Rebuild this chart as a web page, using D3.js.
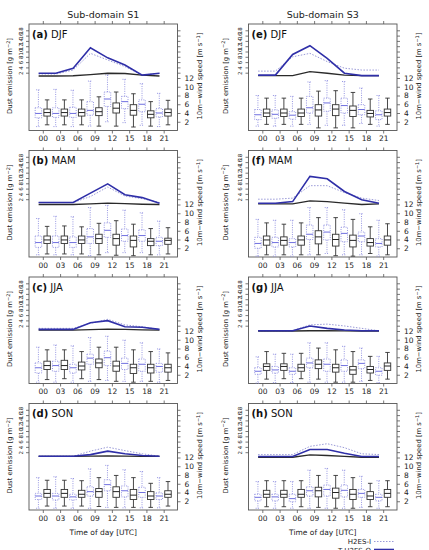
<!DOCTYPE html>
<html><head><meta charset="utf-8">
<script src="https://cdn.jsdelivr.net/npm/d3@7"></script>
<style>body{margin:0;background:#fff}svg text{font-family:"DejaVu Sans",sans-serif}</style>
</head><body><svg id="c" width="429" height="550"></svg>
<script>
const hours = ["00","03","06","09","12","15","18","21"];
const dustTicks = [2,4,6,8,10,12,14,16,18];
const windTicks = [2,4,6,8,10,12];
const panelIds = ["a","b","c","d","e","f","g","h"];
const seasons = ["DJF","MAM","JJA","SON","DJF","MAM","JJA","SON"];
const colTitles = ["Sub-domain S1","Sub-domain S3"];
const legendNames = ["H2ES-I","T-H2ES-O"];

// dust emission [g m-2]: T-H2ES-O (solid blue), H2ES-I (dotted), reference (black)
const dustT_a = [1.8,1.8,3.7,11.4,7.6,4.9,1.1,1.8];
const dustH_a = [1.5,1.5,3.0,9.3,6.8,4.3,1.1,1.8];
const dustB_a = [0.75,0.75,0.85,1.3,1.8,1.7,1.1,0.75];
const dustT_b = [0.75,0.75,0.75,4.3,7.8,3.7,2.6,0.5];
const dustH_b = [0.75,0.75,0.75,3.0,6.6,3.2,2.2,0.75];
const dustB_b = [0,0,0,0.2,0.5,0.3,0.1,0];
const dustT_c = [0.6,0.6,0.6,3.1,3.9,1.6,1.4,0.6];
const dustH_c = [1.0,1.0,1.0,2.9,4.4,2.3,1.6,0.6];
const dustB_c = [0.3,0.3,0.3,0.5,0.7,0.6,0.4,0.3];
const dustT_d = [0.5,0.5,0.5,1.1,2.4,1.4,0.75,0.5];
const dustH_d = [0.5,0.5,0.5,2.4,3.9,2.6,1.4,0.5];
const dustB_d = [0.4,0.4,0.4,0.5,0.6,0.5,0.4,0.4];
const dustT_e = [1.1,1.1,8.9,12.2,7.4,1.8,0.9,0.9];
const dustH_e = [2.6,2.6,8.0,9.3,6.2,3.7,3.0,3.0];
const dustB_e = [0.9,0.9,0.9,2.4,1.8,1.1,0.9,0.9];
const dustT_f = [0.5,0.5,1.1,10.6,9.7,4.9,1.8,0.5];
const dustH_f = [2.0,2.0,2.4,7.1,7.1,4.5,2.4,1.5];
const dustB_f = [0.25,0.25,0.25,1.4,1.1,0.5,0.0,0.2];
const dustT_g = [0.1,0.1,0.1,1.9,1.0,0.4,0.1,0.1];
const dustH_g = [0.1,0.1,0.1,2.3,2.6,1.9,1.0,0.1];
const dustB_g = [0,0,0,0.1,0.1,0.05,0,0];
const dustT_h = [0.4,0.4,0.4,3.0,3.0,1.6,0.4,0.4];
const dustH_h = [1.1,1.1,1.1,4.2,5.2,3.7,1.4,1.1];
const dustB_h = [0.1,0.1,0.1,1.0,0.75,0.4,0.1,0.1];

// 10m wind speed boxes [min, q1, median, q3, max]: H2ES-I (dotted blue), reference (black)
const windH_a = [[0.9,2.9,3.9,5.2,9.3],[0.9,3.0,3.9,5.2,9.4],[0.9,3.0,3.9,5.3,9.2],[1.0,3.5,4.6,6.6,11.3],[2.0,5.5,7.2,8.8,12.7],[1.8,5.0,6.6,7.8,11.7],[1.2,4.3,6.0,7.0,10.7],[0.9,3.1,4.0,5.0,8.5]];
const windB_a = [[1.3,3.3,4.1,4.9,7.0],[1.3,3.3,4.1,4.9,7.0],[1.3,3.3,4.1,4.9,7.0],[1.0,3.4,4.3,5.2,7.7],[1.0,4.0,5.1,6.3,8.8],[0.8,3.5,4.6,5.9,8.4],[1.0,2.9,3.7,4.5,6.6],[1.3,3.3,4.1,4.9,6.9]];
const windH_b = [[0.5,2.2,3.3,4.8,8.8],[0.5,2.2,3.3,4.8,9.3],[0.5,2.2,3.3,4.6,9.2],[0.3,3.1,4.6,6.5,11.3],[1.0,4.5,6.1,7.8,11.8],[1.0,3.6,4.9,6.4,10.7],[1.0,3.6,4.9,6.2,10.1],[0.5,2.6,3.6,4.5,8.2]];
const windB_b = [[0.7,3.1,3.9,4.8,7.0],[0.7,3.1,3.9,4.8,7.1],[0.7,3.1,3.9,4.8,6.9],[0.5,3.1,4.2,5.2,7.7],[0.4,2.7,4.2,5.2,8.3],[0.3,2.3,3.8,4.8,7.5],[0.5,2.6,3.6,4.2,6.5],[0.7,2.9,3.8,4.3,6.7]];
const windH_c = [[0.3,2.4,3.6,4.7,8.3],[0.3,2.8,4.1,5.1,8.8],[0.3,2.4,3.6,4.4,8.6],[0.5,4.4,5.8,6.7,10.5],[0.7,4.1,5.9,7.4,10.8],[0.5,3.2,4.6,5.8,9.9],[0.5,2.8,4.4,5.6,9.3],[0.3,2.6,3.9,4.6,7.9]];
const windB_c = [[0.9,3.2,4.1,5.1,7.7],[1.1,3.2,4.1,5.3,7.7],[1.1,3.1,4.0,4.9,7.3],[0.9,3.6,4.7,5.6,8.3],[0.5,2.8,4.0,5.1,8.3],[0.3,2.3,3.6,4.4,7.7],[0.5,2.4,3.6,4.4,7.3],[0.7,2.6,3.6,4.4,7.0]];
const windH_d = [[0.4,2.4,3.2,3.8,7.4],[0.4,2.3,3.2,3.8,7.6],[0.4,2.3,3.0,3.6,7.2],[0.4,3.2,4.2,5.3,9.4],[0.6,4.4,5.8,6.9,10.2],[0.5,3.0,4.4,5.5,9.2],[0.5,2.9,4.0,5.2,8.8],[0.5,2.4,3.2,3.9,7.4]];
const windB_d = [[0.9,2.9,3.8,4.7,6.8],[0.9,2.9,3.8,4.7,6.8],[0.9,2.9,3.6,4.5,6.7],[0.8,2.9,4.2,4.9,7.4],[0.6,2.9,4.2,5.3,7.9],[0.6,2.4,3.4,4.7,7.4],[0.6,2.4,3.2,4.2,6.1],[0.9,2.9,3.6,4.4,6.5]];
const windH_e = [[1.0,2.5,3.6,4.8,8.0],[1.0,2.8,3.7,4.7,8.0],[1.0,2.6,3.5,4.3,7.8],[1.4,4.0,5.2,7.8,11.1],[1.2,4.4,6.3,7.4,11.4],[1.2,4.0,5.7,7.4,11.2],[1.6,3.6,4.8,5.9,9.7],[1.0,2.5,3.6,4.5,8.0]];
const windB_e = [[1.4,3.2,4.0,4.9,7.4],[1.4,3.2,4.0,4.9,7.4],[1.4,3.2,4.0,4.9,7.4],[0.6,3.3,4.7,5.9,9.0],[0.6,3.4,4.9,5.9,9.1],[0.6,3.2,4.6,5.6,8.7],[1.4,3.1,3.9,4.6,7.2],[1.4,3.3,4.1,4.9,7.4]];
const windH_f = [[0.2,2.0,3.1,4.5,8.6],[0.2,2.3,3.3,4.5,8.4],[0.2,2.3,3.3,4.2,8.4],[0.5,4.0,5.2,7.3,11.3],[0.8,3.9,5.7,7.3,11.3],[0.5,3.5,5.4,6.8,10.8],[0.5,3.5,4.8,5.7,9.9],[0.2,2.3,3.1,4.2,8.4]];
const windB_f = [[0.5,2.7,3.9,4.8,7.8],[0.5,2.7,3.8,4.6,7.5],[0.5,2.7,3.9,4.8,7.8],[0.5,3.0,4.6,6.0,9.0],[0.3,2.5,4.0,5.2,9.0],[0.2,2.3,3.8,5.0,8.6],[0.8,2.5,3.3,4.2,6.9],[0.5,2.7,3.9,4.8,7.6]];
const windH_g = [[0.1,2.1,2.8,3.6,6.1],[0.2,2.4,3.1,3.9,6.7],[0.2,2.1,2.8,3.6,6.7],[0.3,3.6,4.7,5.8,9.3],[0.3,2.8,4.4,5.6,9.3],[0.3,2.8,4.1,5.4,8.5],[0.5,3.4,4.6,5.4,8.1],[0.2,1.9,2.8,3.6,6.2]];
const windB_g = [[1.0,3.0,3.9,4.5,7.3],[1.1,3.0,3.9,4.5,6.9],[1.1,2.8,3.6,4.4,6.9],[1.0,3.4,4.4,5.4,8.1],[0.3,2.6,3.6,4.4,7.7],[0.3,2.1,3.1,3.9,7.3],[0.7,2.4,3.2,3.9,6.2],[1.0,3.0,4.0,4.7,7.1]];
const windH_h = [[0.4,2.1,2.9,3.6,6.5],[0.4,2.1,3.0,3.6,6.5],[0.4,1.9,2.6,3.6,6.5],[0.4,3.2,4.4,5.3,9.1],[0.4,3.2,4.7,5.7,9.5],[0.4,3.0,4.5,5.7,9.1],[0.6,2.9,3.8,4.7,7.7],[0.4,2.1,2.9,3.6,6.7]];
const windB_h = [[0.75,2.9,3.6,4.5,6.7],[0.75,2.9,3.6,4.5,6.7],[0.75,2.9,3.6,4.7,6.7],[0.6,3.0,4.4,5.2,7.9],[0.4,2.7,4.0,5.0,7.9],[0.4,2.4,3.6,4.7,7.4],[0.75,2.4,3.2,4.2,6.1],[0.75,2.9,3.8,4.7,6.7]];

const dustT = [dustT_a,dustT_b,dustT_c,dustT_d,dustT_e,dustT_f,dustT_g,dustT_h];
const dustH = [dustH_a,dustH_b,dustH_c,dustH_d,dustH_e,dustH_f,dustH_g,dustH_h];
const dustB = [dustB_a,dustB_b,dustB_c,dustB_d,dustB_e,dustB_f,dustB_g,dustB_h];
const windH = [windH_a,windH_b,windH_c,windH_d,windH_e,windH_f,windH_g,windH_h];
const windB = [windB_a,windB_b,windB_c,windB_d,windB_e,windB_f,windB_g,windB_h];

const COL_BLUE = "#2f2fa8", COL_DOT = "#9a9ad8", COL_BOXB = "#8c8ce0", COL_BLK = "#2a2a2a";
const svg = d3.select("#c");
const colX = [29, 248.5], W = 148.5;
const rowY = [24, 150.5, 277, 403.5], H = 106.5;

colTitles.forEach((t,ci)=>{
  svg.append("text").attr("x", colX[ci]+W/2).attr("y", 17.5).attr("text-anchor","middle")
    .attr("font-size", 9.5).attr("fill","#222").text(t);
});

panelIds.forEach((pid, p) => {
  const ci = Math.floor(p/4), ri = p%4;
  const x0 = colX[ci], y0 = rowY[ri];
  const g = svg.append("g");
  const x = d3.scaleLinear().domain([-0.8, 7.8]).range([x0, x0+W]);
  const yD = d3.scaleLinear().domain([0, 18]).range([y0+54, y0+6.3]);
  const yW = d3.scaleLinear().domain([0, 12]).range([y0+H, y0+54]);
  const idx = d3.range(hours.length);

  // frame
  g.append("rect").attr("x", x0).attr("y", y0).attr("width", W).attr("height", H)
    .attr("fill","none").attr("stroke","#555").attr("stroke-width",0.9);

  // x axes (bottom with labels, top ticks only)
  const xb = d3.axisBottom(x).tickValues(idx).tickFormat(i=>hours[i]).tickSize(3).tickPadding(2.5);
  const gxb = g.append("g").attr("transform",`translate(0,${y0+H})`).call(xb);
  const xt = d3.axisTop(x).tickValues(idx).tickFormat("").tickSize(3);
  const gxt = g.append("g").attr("transform",`translate(0,${y0})`).call(xt);

  // dust axis left (rotated labels), mirror right
  const yl = d3.axisLeft(yD).tickValues(dustTicks).tickSize(3).tickFormat(d3.format("d"));
  const gyl = g.append("g").attr("transform",`translate(${x0},0)`).call(yl);
  gyl.selectAll(".tick text").attr("transform","rotate(-90)").attr("x",0).attr("dx",0).attr("dy","0.32em")
    .attr("y",-8).attr("text-anchor","middle").attr("font-size",5.5);
  gyl.selectAll(".tick text").each(function(){ /* rotate about tick position */ });
  gyl.selectAll(".tick text").attr("transform","translate(-8,0) rotate(-90)").attr("y",0).attr("dy","0.35em");
  const yr = d3.axisRight(yD).tickValues(dustTicks).tickSize(3).tickFormat("");
  const gyr = g.append("g").attr("transform",`translate(${x0+W},0)`).call(yr);

  // wind axis right
  const yw = d3.axisRight(yW).tickValues(windTicks).tickSize(3).tickPadding(4);
  const gyw = g.append("g").attr("transform",`translate(${x0+W},0)`).call(yw);

  [gxb,gxt,gyl,gyr,gyw].forEach(a=>{
    a.select(".domain").remove();
    a.selectAll(".tick line").attr("stroke","#555").attr("stroke-width",0.8);
    a.selectAll(".tick text").attr("fill","#222");
  });
  gxb.selectAll(".tick text").attr("font-size",7.5);
  gyw.selectAll(".tick text").attr("font-size",7.5);

  // axis titles
  const lx = ci===0 ? 12 : 227.5, rx = ci===0 ? 202 : 421;
  const my = y0 + 52;
  svg.append("text").attr("transform",`translate(${lx},${my}) rotate(-90)`).attr("text-anchor","middle")
    .attr("font-size",6.8).attr("fill","#222")
    .html('Dust emission  [g m<tspan dy="-2.5" font-size="5">−2</tspan><tspan dy="2.5">]</tspan>');
  svg.append("text").attr("transform",`translate(${rx},${my}) rotate(-90)`).attr("text-anchor","middle")
    .attr("font-size",6.8).attr("fill","#222")
    .html('10m−wind speed [m s<tspan dy="-2.5" font-size="5">−1</tspan><tspan dy="2.5">]</tspan>');

  // panel label
  const lab = g.append("text").attr("x", x0+3).attr("y", y0+13.5).attr("font-size",10).attr("fill","#111");
  lab.append("tspan").attr("font-weight","bold").text(`(${pid})`);
  lab.append("tspan").text(" "+seasons[p]);

  // boxes
  const bw = 6.5, cw = 4.5;
  function drawBoxes(data, off, stroke, dashed, medCol) {
    const bg = g.append("g");
    data.forEach((b,i)=>{
      const cx = x(i)+off;
      const s = (sel)=> sel.attr("stroke",stroke).attr("stroke-width",0.9).attr("fill","none")
        .attr("stroke-dasharray", dashed ? "1,1.3" : null);
      s(bg.append("line").attr("x1",cx).attr("x2",cx).attr("y1",yW(b[4])).attr("y2",yW(b[3])));
      s(bg.append("line").attr("x1",cx).attr("x2",cx).attr("y1",yW(b[1])).attr("y2",yW(b[0])));
      s(bg.append("line").attr("x1",cx-cw/2).attr("x2",cx+cw/2).attr("y1",yW(b[4])).attr("y2",yW(b[4])));
      s(bg.append("line").attr("x1",cx-cw/2).attr("x2",cx+cw/2).attr("y1",yW(b[0])).attr("y2",yW(b[0])));
      s(bg.append("rect").attr("x",cx-bw/2).attr("width",bw).attr("y",yW(b[3])).attr("height",yW(b[1])-yW(b[3])));
      bg.append("line").attr("x1",cx-bw/2).attr("x2",cx+bw/2).attr("y1",yW(b[2])).attr("y2",yW(b[2]))
        .attr("stroke",medCol).attr("stroke-width",1);
    });
  }
  drawBoxes(windH[p], -4.4, COL_BOXB, true, "#6f6fe0");
  drawBoxes(windB[p], 4.3, "#333", false, "#222");

  // dust lines
  const line = d3.line().x((d,i)=>x(i)-4.2).y(d=>yD(d));
  g.append("path").datum(dustH[p]).attr("d",line).attr("fill","none").attr("stroke",COL_DOT)
    .attr("stroke-width",1).attr("stroke-dasharray","1.5,1.5");
  g.append("path").datum(dustB[p]).attr("d",line).attr("fill","none").attr("stroke",COL_BLK).attr("stroke-width",1.3);
  g.append("path").datum(dustT[p]).attr("d",line).attr("fill","none").attr("stroke",COL_BLUE).attr("stroke-width",1.6);

  if (ri===3) {
    svg.append("text").attr("x", x0+W/2).attr("y", y0+H+24.5).attr("text-anchor","middle")
      .attr("font-size",7.5).attr("fill","#222").text("Time of day [UTC]");
  }
});

// legend
const lg = svg.append("g");
lg.append("text").attr("x",371).attr("y",544).attr("text-anchor","end").attr("font-size",7).attr("fill","#222").text(legendNames[0]);
lg.append("line").attr("x1",374).attr("x2",394).attr("y1",541.5).attr("y2",541.5).attr("stroke",COL_DOT).attr("stroke-width",1).attr("stroke-dasharray","1.5,1.5");
lg.append("text").attr("x",371).attr("y",552.5).attr("text-anchor","end").attr("font-size",7).attr("fill","#222").text(legendNames[1]);
lg.append("line").attr("x1",374).attr("x2",394).attr("y1",549.5).attr("y2",549.5).attr("stroke",COL_BLUE).attr("stroke-width",1.6);
</script></body></html>
